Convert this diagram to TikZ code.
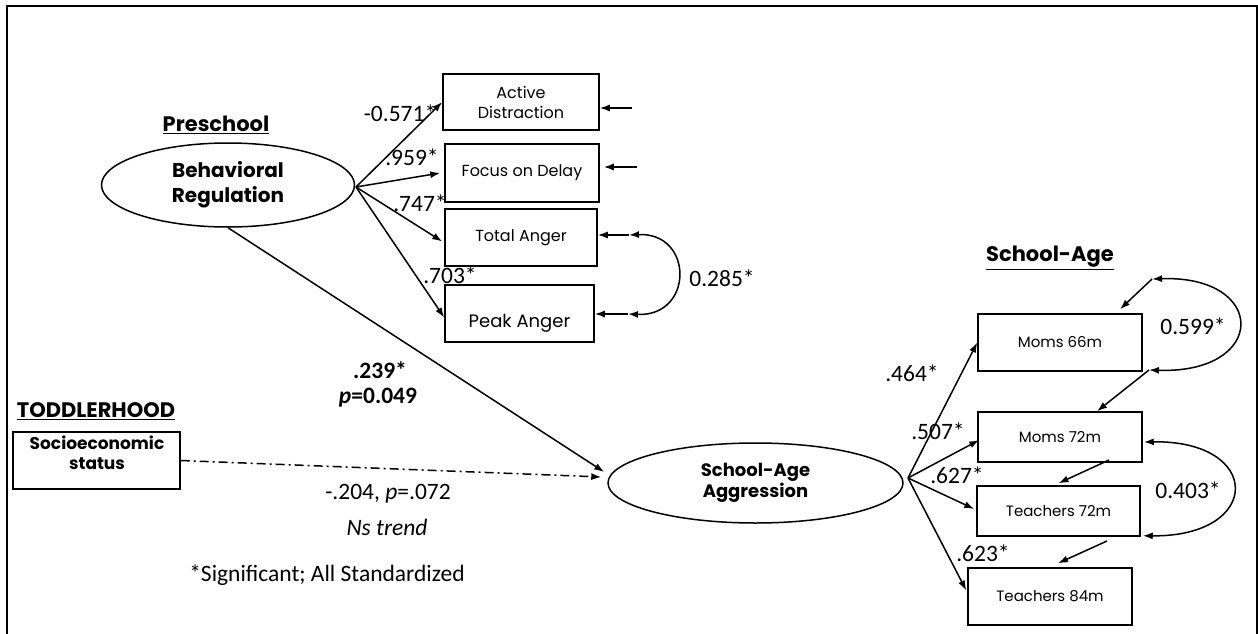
\documentclass[tikz,border=0pt]{standalone}
\usepackage{fontspec}
\setmainfont{Carlito}
\newfontfamily\gothic{Poppins}
\usetikzlibrary{arrows.meta,calc,shapes.geometric}

\begin{document}
\begin{tikzpicture}[x=1pt,y=-1pt,
    path/.style={-{Latex[length=10pt,width=7pt]},line width=1.5pt},
    cov/.style={{Latex[length=10pt,width=7pt]}-{Latex[length=10pt,width=7pt]},line width=1.5pt},
    trend/.style={path,dash pattern=on 9pt off 4pt on 2pt off 4pt},
    obs/.style={draw,line width=1.5pt,inner sep=0pt,align=center,
        font=\gothic\fontsize{15}{19}\selectfont},
    boxtext/.style={inner sep=0pt,align=center,font=\gothic\fontsize{16}{20}\selectfont},
    latent/.style={draw,ellipse,line width=1.5pt,inner sep=0pt,align=center},
    head/.style={inner sep=0pt,font=\gothic\bfseries\fontsize{21}{25}\selectfont},
    lbl/.style={inner sep=0pt,font=\fontsize{23.5}{28}\selectfont}]
    \useasboundingbox (0,0) rectangle (1258,634);
    \draw[line width=2pt] (7,634) -- (7,6) -- (1257,6) -- (1257,634);

    % preschool part
    \node[head] (preschool) at (216,125) {\underline{Preschool}};
    \node[latent,minimum width=253pt,minimum height=84pt,
        font=\gothic\bfseries\fontsize{20}{25}\selectfont] (behreg) at (228,185) {Behavioral\\Regulation};
    \node[obs,boxtext,minimum width=156pt,minimum height=56pt] (ad) at (521,102) {Active\\Distraction};
    \node[obs,boxtext,minimum width=154pt,minimum height=58pt] (fd) at (522,173) {Focus on Delay};
    \node[obs,boxtext,minimum width=152pt,minimum height=57pt] (ta) at (521,237.5) {Total Anger};
    \node[obs,minimum width=149pt,minimum height=57pt] (pa) at (519.5,313.5) {};
    \node[boxtext,font=\gothic\fontsize{18}{22}\selectfont] (pa-txt) at (519.5,323) {Peak Anger};

    \coordinate (br) at (356,187);
    \draw[path] (br) -- (ad.west);
    \draw[path] (br) -- ($(fd.west)+(-4,0)$);
    \draw[path] (br) -- ($(ta.west)+(-2,4)$);
    \draw[path] (br) -- ($(pa.west)+(0,4)$);
    \node[lbl] (l-ad) at (400,113) {-0.571*};
    \node[lbl] (l-fd) at (412,157) {.959*};
    \node[lbl] (l-ta) at (420,203) {.747*};
    \node[lbl] (l-pa) at (450,275) {.703*};

    \coordinate (ad-r) at (632,108);
    \coordinate (fd-r) at (637,167);
    \coordinate (ta-r) at (629,235);
    \coordinate (pa-r) at (628,314);
    \draw[path] (ad-r) -- (ad-r -| ad.east);
    \draw[path] (fd-r) -- ($(fd-r -| fd.east)+(4,0)$);
    \draw[path] (ta-r) -- (ta-r -| ta.east);
    \draw[path] (pa-r) -- (pa-r -| pa.east);
    \draw[cov] (ta-r) .. controls (694,232) and (694,317) .. (pa-r);
    \node[lbl] (l-cov1) at (722,278) {0.285*};

    % toddlerhood part
    \node[head] (toddler) at (96,411) {\underline{TODDLERHOOD}};
    \node[obs,minimum width=167pt,minimum height=57pt] (ses) at (96.5,460.5) {};
    \node[boxtext,font=\gothic\bfseries\fontsize{17}{20}\selectfont] (ses-txt) at (97,453) {Socioeconomic\\status};

    % school-age part
    \node[latent,minimum width=295pt,minimum height=80pt,
        font=\gothic\bfseries\fontsize{18}{21}\selectfont] (sa) at (755.5,483) {School-Age\\Aggression};
    \draw[path] (behreg.south) -- ($(sa.west)+(-3,-11)$);
    \draw[trend] (ses.east) -- ($(sa.west)+(-6,-6)$);
    \node[lbl,font=\bfseries\fontsize{23.5}{28}\selectfont] (l-beta) at (380,370) {.239*};
    \node[lbl,font=\bfseries\fontsize{23.5}{28}\selectfont] (l-pval) at (378,398) {\textit{p}=0.049};
    \node[lbl] (l-ses) at (388,494) {-.204, \textit{p}=.072};
    \node[lbl] (l-ns) at (387,527) {\textit{Ns trend}};
    \node[lbl] (note) at (327,575) {*Significant; All Standardized};

    \node[head] (schoolage) at (1050,258) {\underline{School-Age}};
    \node[obs,minimum width=164pt,minimum height=57pt] (m66) at (1060,342.5) {Moms 66m};
    \node[obs,minimum width=164pt,minimum height=50pt] (m72) at (1060,437) {Moms 72m};
    \node[obs,minimum width=163pt,minimum height=50pt] (t72) at (1058.5,511) {Teachers 72m};
    \node[obs,minimum width=164pt,minimum height=57pt] (t84) at (1050,596.5) {Teachers 84m};

    \coordinate (sa-r) at (908,478);
    \draw[path] (sa-r) -- (m66.west);
    \draw[path] (sa-r) -- ($(m72.west)+(2,3)$);
    \draw[path] (sa-r) -- ($(t72.west)+(-2,-2)$);
    \draw[path] (sa-r) -- ($(t84.west)+(-1,-6)$);
    \node[lbl] (l-m66) at (912,373) {.464*};
    \node[lbl] (l-m72) at (938,431) {.507*};
    \node[lbl] (l-t72) at (957,475) {.627*};
    \node[lbl] (l-t84) at (983,553) {.623*};

    \coordinate (m66-r) at (1152,279);
    \coordinate (m72-r) at (1149,370);
    \coordinate (t72-r) at (1109,460);
    \coordinate (t84-r) at (1107,541);
    \draw[path] (m66-r) -- ($(m66.north)+(60,-4)$);
    \draw[path] (m72-r) -- ($(m72.north)+(37,0)$);
    \draw[path] (t72-r) -- ($(t72.north)+(0,-2)$);
    \draw[path] (t84-r) -- ($(t84.north)+(8,-4)$);
    \draw[cov] (m66-r) .. controls (1268,275) and (1268,374) .. (m72-r);
    \draw[cov] ($(m72.east)+(1,5)$) .. controls (1263,440) and (1263,537) .. ($(t72.south east)+(2,-1)$);
    \node[lbl] (l-cov2) at (1193,326) {0.599*};
    \node[lbl] (l-cov3) at (1188,490) {0.403*};
\end{tikzpicture}
\end{document}
